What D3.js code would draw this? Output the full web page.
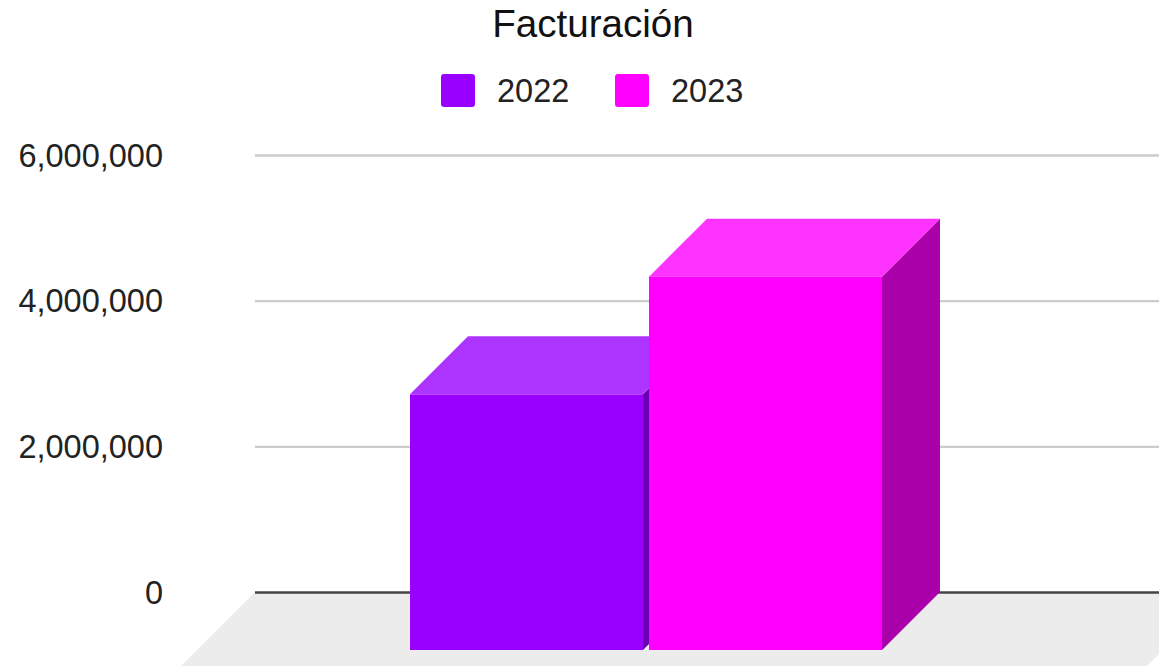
<!DOCTYPE html>
<html><head><meta charset="utf-8">
<script src="https://cdn.jsdelivr.net/npm/d3@7/dist/d3.min.js"></script>
<style>html,body{margin:0;padding:0;background:#fff;overflow:hidden}svg{display:block}text{font-family:"Liberation Sans",Arial,sans-serif}</style>
</head><body><svg id="c" width="1159" height="666"></svg>
<script>
const title = "Facturación";
const seriesNames = ["2022", "2023"];
const seriesValues = [3510000, 5125000];
const seriesColors = ["#9900ff", "#ff00ff"];
const topColors = ["#ad33ff", "#ff33ff"];
const sideColors = ["#6b00b3", "#a900a9"];
const tickValues = [0, 2000000, 4000000, 6000000];

const svg = d3.select("#c");
const depth = 58;
const y = d3.scaleLinear().domain([0, 6000000]).range([592, 155]);
const x = d3.scaleBand().domain(seriesNames).range([410, 882]).paddingInner(0.025);
const plotLeft = 255, plotRight = 1159;

// floor
const floorBottom = y(0) + 74;
svg.append("polygon")
  .attr("points", [[plotLeft, y(0)], [plotRight + 62, y(0)], [plotRight + 62 - 74, floorBottom], [plotLeft - 74, floorBottom]].join(" "))
  .attr("fill", "#ececec");

// axis with gridlines
const axis = d3.axisLeft(y).tickValues(tickValues).tickFormat(d3.format(",")).tickSize(0).tickPadding(92);
const g = svg.append("g").attr("transform", `translate(${plotLeft},0)`).call(axis);
g.select(".domain").remove();
g.selectAll(".tick text").attr("font-size", 32.5).attr("fill", "#222").style("font-family", '"Liberation Sans",Arial,sans-serif').attr("dy", "0.34em");
g.selectAll(".tick line").attr("x2", plotRight - plotLeft)
  .attr("stroke", d => d === 0 ? "#444" : "#ccc")
  .attr("stroke-width", 2.4);

// 3D bars
seriesNames.forEach((name, i) => {
  const L = x(name), R = L + x.bandwidth();
  const backTop = y(seriesValues[i]);
  const frontTop = backTop + depth;
  const frontBottom = y(0) + depth;
  const b = svg.append("g");
  b.append("polygon").attr("fill", sideColors[i])
    .attr("points", [[R, frontTop], [R + depth, backTop], [R + depth, y(0)], [R, frontBottom]].join(" "));
  b.append("polygon").attr("fill", topColors[i])
    .attr("points", [[L, frontTop], [L + depth, backTop], [R + depth, backTop], [R, frontTop]].join(" "));
  b.append("rect").attr("x", L).attr("y", frontTop).attr("width", x.bandwidth()).attr("height", frontBottom - frontTop).attr("fill", seriesColors[i]);
});

// title
svg.append("text").attr("x", 593).attr("y", 37).attr("text-anchor", "middle").attr("font-size", 38.6).attr("fill", "#111").text(title);

// legend
const legendX = d3.scalePoint().domain(seriesNames).range([441, 615]);
seriesNames.forEach((name, i) => {
  svg.append("rect").attr("x", legendX(name)).attr("y", 74).attr("width", 34).attr("height", 33).attr("rx", 3).attr("fill", seriesColors[i]);
  svg.append("text").attr("x", legendX(name) + 56).attr("y", 102).attr("font-size", 32.5).attr("fill", "#222").text(name);
});
</script></body></html>
